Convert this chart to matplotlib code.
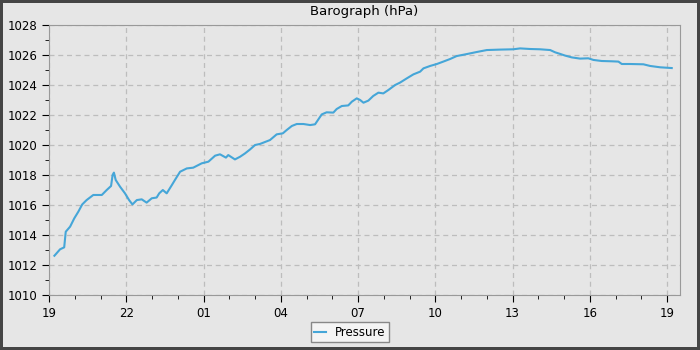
import matplotlib
matplotlib.use('Agg')
import matplotlib.pyplot as plt
from matplotlib.ticker import MultipleLocator

# Pressure readings, hours since 19:00
hours = [0.21, 0.43, 0.59, 0.65, 0.82, 0.98, 1.14, 1.29, 1.46, 1.72, 2.05, 2.24,
         2.41, 2.47, 2.52, 2.59, 2.76, 2.95, 3.11, 3.24, 3.41, 3.60, 3.79, 3.99,
         4.18, 4.28, 4.42, 4.57, 4.77, 4.89, 5.09, 5.35, 5.60, 5.93, 6.19,
         6.45, 6.64, 6.87, 6.96, 7.22, 7.42, 7.61, 7.81, 8.0, 8.19, 8.58, 8.84,
         9.08, 9.23, 9.43, 9.62, 9.88, 10.14, 10.33, 10.46, 10.59, 10.78, 11.04,
         11.17, 11.37, 11.62, 11.76, 11.95, 12.08, 12.21, 12.40, 12.59, 12.79,
         12.98, 13.18, 13.44, 13.63, 13.89, 14.15, 14.41, 14.54, 14.80, 15.06,
         15.31, 15.57, 15.83, 16.16, 16.61, 17.0, 17.52, 18.03, 18.29, 18.68,
         19.07, 19.46, 19.65, 19.85, 20.04, 20.30, 20.62, 20.94, 21.14, 21.46,
         21.85, 22.11, 22.24, 22.56, 23.08, 23.34, 23.73, 24.18]
pressure = [1012.62, 1013.05, 1013.18, 1014.22, 1014.56, 1015.11, 1015.56, 1016.04,
            1016.33, 1016.67, 1016.67, 1017.0, 1017.27, 1018.0, 1018.16, 1017.67,
            1017.22, 1016.78, 1016.33, 1016.04, 1016.33, 1016.38, 1016.16, 1016.45,
            1016.5, 1016.78, 1017.0, 1016.78, 1017.33, 1017.67, 1018.22,
            1018.44, 1018.49, 1018.78, 1018.89, 1019.29, 1019.38, 1019.16, 1019.33,
            1019.04, 1019.22, 1019.44, 1019.71, 1020.0, 1020.07, 1020.33, 1020.71,
            1020.78, 1021.0, 1021.27, 1021.40, 1021.40, 1021.33, 1021.38, 1021.71,
            1022.04, 1022.18, 1022.16, 1022.4, 1022.6, 1022.64, 1022.89, 1023.11,
            1023.0, 1022.82, 1022.96, 1023.27, 1023.49, 1023.44, 1023.67, 1024.0,
            1024.16, 1024.44, 1024.71, 1024.89, 1025.11, 1025.27, 1025.4, 1025.56,
            1025.73, 1025.93, 1026.04, 1026.2, 1026.33, 1026.36, 1026.38, 1026.44,
            1026.4, 1026.38, 1026.33, 1026.18, 1026.07, 1025.96, 1025.84, 1025.76,
            1025.78, 1025.67, 1025.6, 1025.58, 1025.56, 1025.4, 1025.4, 1025.38,
            1025.27, 1025.18, 1025.13]

tick_pos = [0, 3, 6, 9, 12, 15, 18, 21, 24]
tick_labels = ['19', '22', '01', '04', '07', '10', '13', '16', '19']

bg = '#e6e6e6'
fig = plt.figure(figsize=(7, 3.5), dpi=100, facecolor=bg,
                 edgecolor='#454545', linewidth=3)
ax = fig.add_axes([0.07, 0.157, 0.9014, 0.7716])
ax.set_facecolor(bg)

ax.plot(hours, pressure, color='#45a6d8', lw=1.5, label='Pressure')

ax.set_xlim(0, 24.5)
ax.set_ylim(1010, 1028)
ax.set_xticks(tick_pos)
ax.set_xticklabels(tick_labels)
ax.xaxis.set_minor_locator(MultipleLocator(1))
ax.yaxis.set_major_locator(MultipleLocator(2))
ax.yaxis.set_minor_locator(MultipleLocator(1))
ax.tick_params(which='major', length=5, labelsize=8.5, color='black')
ax.tick_params(which='minor', length=3, color='black')

for s in ax.spines.values():
    s.set_color('#999999')
ax.grid(True, which='major', color='#bdbdbd', ls=(0, (4, 3)), lw=0.9)

ax.set_title('Barograph (hPa)', fontsize=9.5, pad=7)

leg = fig.legend(loc='lower center', bbox_to_anchor=(0.5, 0.005), fontsize=8.5,
                 fancybox=False, framealpha=1, facecolor='#f4f4f4',
                 edgecolor='#888888', handlelength=1.0, borderpad=0.3)

fig.savefig('out.png', dpi=100, facecolor=bg, edgecolor='#454545')
